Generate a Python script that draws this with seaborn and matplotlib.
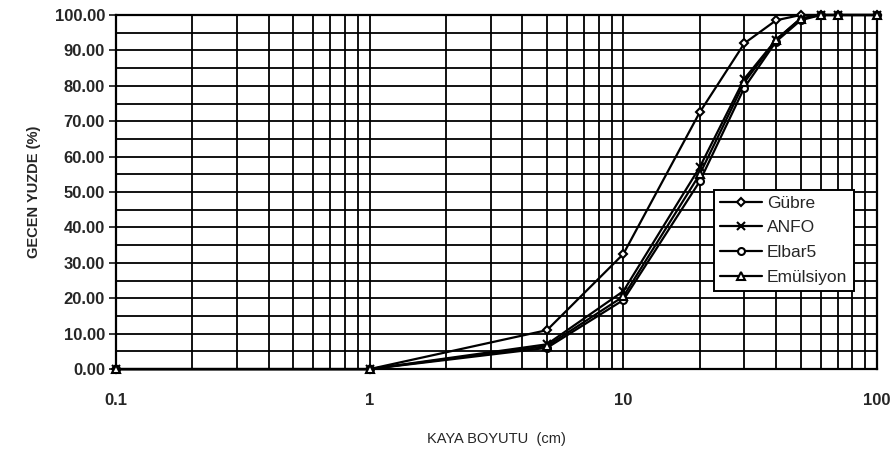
import matplotlib
matplotlib.use("Agg")
import matplotlib.pyplot as plt
import matplotlib.ticker as mticker
import pandas as pd
import seaborn as sns

sizes = [0.1, 1, 5, 10, 20, 30, 40, 50, 60, 70, 100]
gubre = [0.0, 0.0, 11.0, 32.5, 72.5, 92.0, 98.5, 100.0, 100.0, 100.0, 100.0]
anfo = [0.0, 0.0, 7.0, 22.0, 57.0, 82.0, 93.0, 99.0, 100.0, 100.0, 100.0]
elbar5 = [0.0, 0.0, 6.0, 19.5, 53.0, 79.5, 92.5, 98.5, 100.0, 100.0, 100.0]
emulsiyon = [0.0, 0.0, 6.5, 20.5, 55.0, 81.0, 93.0, 99.0, 100.0, 100.0, 100.0]
series_names = ["Gübre", "ANFO", "Elbar5", "Emülsiyon"]

frames = []
for name, vals in zip(series_names, [gubre, anfo, elbar5, emulsiyon]):
    frames.append(pd.DataFrame({"size": sizes, "pct": vals, "seri": name}))
df = pd.concat(frames, ignore_index=True)

sns.set_style("white")
plt.rcParams['font.family'] = ['Liberation Sans', 'DejaVu Sans']

fig = plt.figure(figsize=(8.96, 4.49), dpi=100)
ax = fig.add_axes([0.1295, 0.178, 0.8493, 0.7886])

markers = {"Gübre": "D", "ANFO": "x", "Elbar5": "o", "Emülsiyon": "^"}
sizes_m = {"Gübre": 4.5, "ANFO": 5.5, "Elbar5": 5, "Emülsiyon": 5.5}
for name in series_names:
    sub = df[df["seri"] == name]
    sns.lineplot(data=sub, x="size", y="pct", ax=ax, color="black", lw=1.6,
                 marker=markers[name], markersize=sizes_m[name],
                 markerfacecolor="white", markeredgecolor="black",
                 markeredgewidth=1.5, label=name, clip_on=False, zorder=5)

ax.set_xscale("log")
ax.set_xlim(0.1, 100)
ax.set_ylim(0, 100)
ax.yaxis.set_major_locator(mticker.MultipleLocator(10))
ax.yaxis.set_minor_locator(mticker.MultipleLocator(5))
ax.yaxis.set_major_formatter(mticker.FormatStrFormatter("%.2f"))
ax.xaxis.set_major_locator(mticker.FixedLocator([0.1, 1, 10, 100]))
ax.xaxis.set_major_formatter(mticker.FixedFormatter(["0.1", "1", "10", "100"]))
ax.xaxis.set_minor_locator(mticker.LogLocator(base=10, subs=range(2, 10)))
ax.xaxis.set_minor_formatter(mticker.NullFormatter())

ax.grid(True, which="both", color="black", lw=1.3)
ax.set_axisbelow(True)
for s in ax.spines.values():
    s.set_color("black")
    s.set_linewidth(1.6)

ax.tick_params(axis="y", which="major", left=True, length=5, width=1.3,
               labelsize=12, pad=3)
ax.tick_params(axis="x", which="major", bottom=False, labelsize=12, pad=14)
ax.tick_params(which="minor", left=False, bottom=False)
for lab in ax.get_yticklabels() + ax.get_xticklabels():
    lab.set_fontweight("bold")

ax.set_ylabel("GECEN YUZDE (%)", fontsize=10.5, fontweight="bold", labelpad=10)
ax.set_xlabel("KAYA BOYUTU  (cm)", fontsize=10.5, labelpad=17)

leg = ax.legend(loc="upper left", bbox_to_anchor=(0.786, 0.507), frameon=True,
                fancybox=False, edgecolor="black", framealpha=1,
                fontsize=12.5, handlelength=2.4, borderpad=0.35,
                labelspacing=0.55, handletextpad=0.3, borderaxespad=0)
leg.get_frame().set_linewidth(1.4)

fig.savefig("out.png", dpi=100)
